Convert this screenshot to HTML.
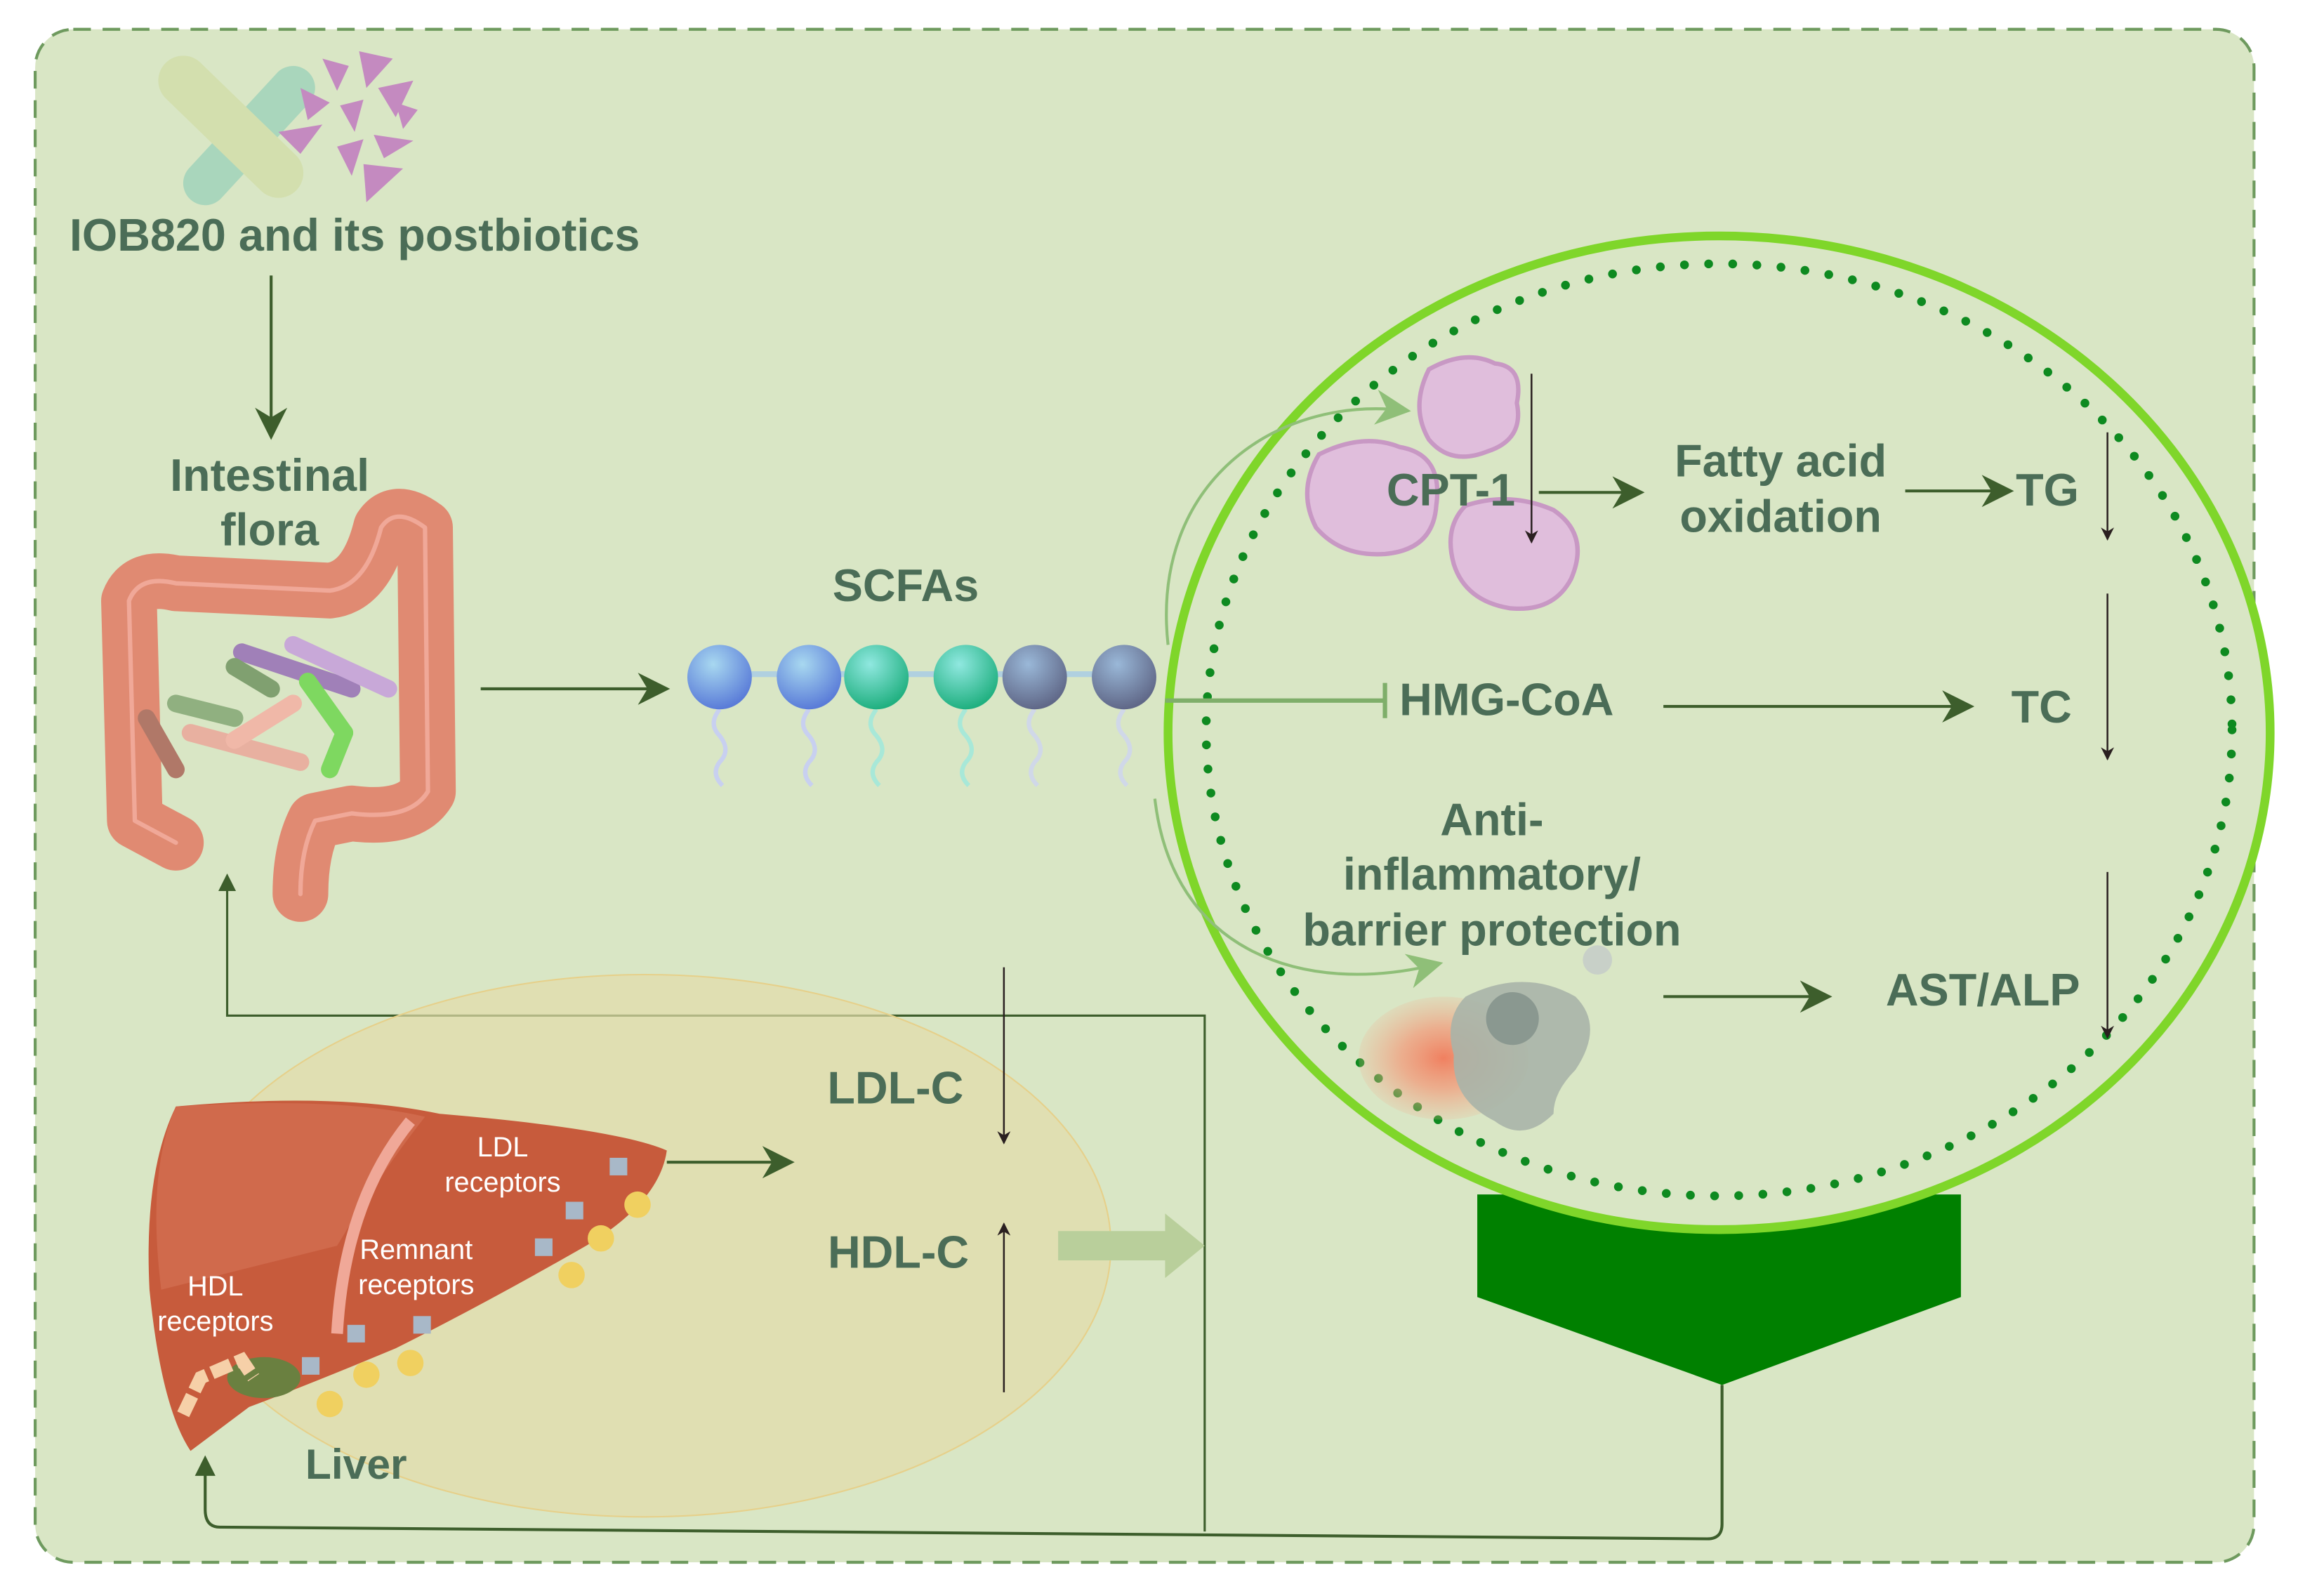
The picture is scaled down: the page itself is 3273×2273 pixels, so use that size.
<!DOCTYPE html>
<html><head><meta charset="utf-8"><style>
html,body{margin:0;padding:0;background:#fff;}
svg{display:block;}
text{font-family:"Liberation Sans",sans-serif;font-weight:bold;fill:#4b6d57;text-anchor:middle;}
.w{fill:#fff;font-weight:normal;font-size:19px;}
</style></head><body>
<svg width="3273" height="2273" viewBox="0 0 1568 1089" preserveAspectRatio="none" xmlns="http://www.w3.org/2000/svg">
<defs>
<marker id="ab" viewBox="0 0 10 10" refX="9" refY="5" markerWidth="22" markerHeight="22" orient="auto" markerUnits="userSpaceOnUse"><path d="M0,0 L10,5 L0,10 L3,5z" fill="#3d5e2c"/></marker>
<marker id="ad" viewBox="0 0 10 10" refX="9" refY="5" markerWidth="9" markerHeight="9" orient="auto" markerUnits="userSpaceOnUse"><path d="M0,0 L10,5 L0,10 L3,5z" fill="#2a2020"/></marker>
<marker id="ag" viewBox="0 0 10 10" refX="8" refY="5" markerWidth="24" markerHeight="24" orient="auto" markerUnits="userSpaceOnUse"><path d="M0,0 L10,5 L0,10 L3,5z" fill="#8fbf78"/></marker>
<radialGradient id="ball" cx="0.4" cy="0.3" r="0.7"><stop offset="0" stop-color="#a8d8f0"/><stop offset="1" stop-color="#5a7cd8"/></radialGradient>
<radialGradient id="ballg" cx="0.4" cy="0.3" r="0.7"><stop offset="0" stop-color="#90e8e0"/><stop offset="1" stop-color="#20b080"/></radialGradient>
<radialGradient id="ballk" cx="0.4" cy="0.3" r="0.7"><stop offset="0" stop-color="#9ab8d8"/><stop offset="1" stop-color="#606888"/></radialGradient>
<radialGradient id="halo"><stop offset="0" stop-color="#f08060"/><stop offset="0.5" stop-color="#f0a080" stop-opacity="0.8"/><stop offset="1" stop-color="#f0b090" stop-opacity="0.2"/></radialGradient>
</defs>
<rect x="24" y="20" width="1514" height="1046" rx="26" fill="#d9e6c5" stroke="#6e9a5e" stroke-width="2" stroke-dasharray="12 8"/>

<!-- bacteria icon -->
<line x1="140" y1="125" x2="200" y2="60" stroke="#a9d6bc" stroke-width="30" stroke-linecap="round"/>
<line x1="125" y1="55" x2="190" y2="118" stroke="#d3dfae" stroke-width="34" stroke-linecap="round"/>
<g fill="#c48ac0">
<polygon points="220,40 238,45 230,62"/><polygon points="245,35 268,40 250,60"/><polygon points="205,60 225,70 210,82"/>
<polygon points="232,72 248,68 242,90"/><polygon points="258,60 282,55 270,80"/><polygon points="190,90 220,85 205,105"/>
<polygon points="230,100 248,95 240,120"/><polygon points="255,92 282,96 262,108"/><polygon points="248,112 275,115 250,138"/>
<polygon points="270,70 285,75 275,88"/>
</g>
<text x="242" y="171" font-size="31">IOB820 and its postbiotics</text>
<line x1="185" y1="188" x2="185" y2="298" stroke="#3d5e2c" stroke-width="2" marker-end="url(#ab)"/>
<text x="184" y="335" font-size="31">Intestinal</text>
<text x="184" y="372" font-size="31">flora</text>

<!-- colon -->
<g fill="none" stroke-linecap="round" stroke-linejoin="round">
<path d="M120,575 L92,560 L88,410 Q95,392 120,398 L225,403 Q250,400 260,360 Q270,345 290,360 L292,540 Q280,560 240,555 L215,560 Q205,580 205,610" stroke="#e08a72" stroke-width="38"/>
<path d="M120,575 L92,560 L88,410 Q95,392 120,398 L225,403 Q250,400 260,360 Q270,345 290,360 L292,540 Q280,560 240,555 L215,560 Q205,580 205,610" stroke="#f0a898" stroke-width="3"/>
</g>
<g stroke-width="12" stroke-linecap="round">
<line x1="165" y1="445" x2="240" y2="470" stroke="#a080b8"/><line x1="200" y1="440" x2="265" y2="470" stroke="#c8a8d8"/>
<line x1="210" y1="465" x2="235" y2="500" stroke="#7ed860"/><line x1="235" y1="500" x2="225" y2="525" stroke="#7ed860"/>
<line x1="120" y1="480" x2="160" y2="490" stroke="#90b080"/><line x1="130" y1="500" x2="205" y2="520" stroke="#e8b0a0"/>
<line x1="160" y1="505" x2="200" y2="480" stroke="#f0b8a8"/><line x1="100" y1="490" x2="120" y2="525" stroke="#b07868"/>
<line x1="160" y1="455" x2="185" y2="470" stroke="#80a070"/>
</g>

<line x1="328" y1="470" x2="455" y2="470" stroke="#3d5e2c" stroke-width="2" marker-end="url(#ab)"/>
<text x="618" y="410" font-size="31">SCFAs</text>
<line x1="491" y1="460" x2="767" y2="460" stroke="#b0d0e0" stroke-width="4"/>
<g fill="none" stroke-width="3">
<path d="M491,484 q-8,10 0,18 q8,10 0,18 q-6,8 2,16" stroke="#c8d0f0"/>
<path d="M552,484 q-8,10 0,18 q8,10 0,18 q-6,8 2,16" stroke="#c8d0f0"/>
<path d="M598,484 q-8,10 0,18 q8,10 0,18 q-6,8 2,16" stroke="#a8e8d8"/>
<path d="M659,484 q-8,10 0,18 q8,10 0,18 q-6,8 2,16" stroke="#a8e8d8"/>
<path d="M706,484 q-8,10 0,18 q8,10 0,18 q-6,8 2,16" stroke="#d0d8e8"/>
<path d="M767,484 q-8,10 0,18 q8,10 0,18 q-6,8 2,16" stroke="#d0d8e8"/>
</g>
<circle cx="491" cy="462" r="22" fill="url(#ball)"/><circle cx="552" cy="462" r="22" fill="url(#ball)"/>
<circle cx="598" cy="462" r="22" fill="url(#ballg)"/><circle cx="659" cy="462" r="22" fill="url(#ballg)"/>
<circle cx="706" cy="462" r="22" fill="url(#ballk)"/><circle cx="767" cy="462" r="22" fill="url(#ballk)"/>

<polyline points="155,598 155,693 822,693 822,1045" fill="none" stroke="#3d5e2c" stroke-width="1.5"/>
<path d="M155,596 l-6,12 l12,0z" fill="#3d5e2c"/>
<path d="M1175,945 L1175,1040 Q1175,1050 1165,1050 L150,1042 Q140,1042 140,1030 L140,997" fill="none" stroke="#3d5e2c" stroke-width="2"/>
<path d="M140,993 l-7,14 l14,0z" fill="#3d5e2c"/>

<ellipse cx="440" cy="850" rx="318" ry="185" fill="#e3dba9" fill-opacity="0.7" stroke="#e6d08a" stroke-width="1"/>

<!-- liver -->
<path d="M120,755 Q230,745 300,760 Q420,770 455,785 Q450,820 400,850 Q330,890 270,920 Q210,945 170,960 Q150,975 130,990 Q110,960 102,880 Q98,800 120,755z" fill="#c75b3c"/>
<path d="M120,755 Q230,748 290,762 Q260,800 230,850 L110,880 Q100,800 120,755z" fill="#d06a4c"/>
<path d="M230,910 Q235,820 280,765" stroke="#f0a898" stroke-width="8" fill="none"/>
<ellipse cx="180" cy="940" rx="25" ry="14" fill="#6a8040"/>
<path d="M125,965 l12,-25 l28,-12 l8,12" stroke="#f6d0a8" stroke-width="9" fill="none" stroke-dasharray="14 4"/>
<g fill="#a8b8c8"><rect x="416" y="790" width="12" height="12"/><rect x="386" y="820" width="12" height="12"/><rect x="365" y="845" width="12" height="12"/><rect x="237" y="904" width="12" height="12"/><rect x="282" y="898" width="12" height="12"/><rect x="206" y="926" width="12" height="12"/></g>
<g fill="#f0d060"><circle cx="435" cy="822" r="9"/><circle cx="410" cy="845" r="9"/><circle cx="390" cy="870" r="9"/><circle cx="250" cy="938" r="9"/><circle cx="280" cy="930" r="9"/><circle cx="225" cy="958" r="9"/></g>
<text class="w" x="343" y="789">LDL</text><text class="w" x="343" y="813">receptors</text>
<text class="w" x="284" y="859">Remnant</text><text class="w" x="284" y="883">receptors</text>
<text class="w" x="147" y="884">HDL</text><text class="w" x="147" y="908">receptors</text>
<text x="243" y="1009" font-size="29">Liver</text>
<line x1="455" y1="793" x2="540" y2="793" stroke="#3d5e2c" stroke-width="2" marker-end="url(#ab)"/>
<text x="611" y="753" font-size="31">LDL-C</text>
<text x="613" y="865" font-size="31">HDL-C</text>
<line x1="685" y1="660" x2="685" y2="780" stroke="#2a2020" stroke-width="1.2" marker-end="url(#ad)"/>
<line x1="685" y1="950" x2="685" y2="835" stroke="#2a2020" stroke-width="1.2" marker-end="url(#ad)"/>
<polygon points="722,840 795,840 795,828 822,850 795,872 795,860 722,860" fill="#b9cf9b"/>

<polygon points="1008,815 1338,815 1338,885 1175,945 1008,885" fill="#008000"/>
<ellipse cx="1173" cy="500" rx="376" ry="339" fill="#d9e6c5" stroke="#7fd62a" stroke-width="6"/>
<ellipse cx="1173" cy="498" rx="350" ry="318" fill="none" stroke="#0e8a20" stroke-width="6" stroke-linecap="round" stroke-dasharray="0 16.5"/>

<path d="M797,440 C785,330 870,270 958,280" fill="none" stroke="#8fbf78" stroke-width="2" marker-end="url(#ag)"/>
<path d="M788,545 C800,650 890,680 980,658" fill="none" stroke="#8fbf78" stroke-width="2" marker-end="url(#ag)"/>

<g fill="#e0bedc" stroke="#c898c4" stroke-width="3">
<path d="M975,252 Q1000,238 1020,248 Q1040,250 1035,275 Q1040,300 1015,308 Q990,318 975,300 Q962,278 975,252z"/>
<path d="M900,310 Q930,295 955,305 Q985,310 980,345 Q978,375 945,378 Q915,380 898,360 Q885,335 900,310z"/>
<path d="M1000,345 Q1030,335 1060,348 Q1085,365 1072,395 Q1060,418 1030,415 Q1000,410 992,385 Q985,360 1000,345z"/>
</g>
<text x="990" y="345" font-size="31">CPT-1</text>
<line x1="1045" y1="255" x2="1045" y2="370" stroke="#2a2020" stroke-width="1.2" marker-end="url(#ad)"/>
<line x1="1050" y1="336" x2="1120" y2="336" stroke="#3d5e2c" stroke-width="2" marker-end="url(#ab)"/>
<text x="1215" y="325" font-size="31">Fatty acid</text>
<text x="1215" y="363" font-size="31">oxidation</text>
<line x1="1300" y1="335" x2="1372" y2="335" stroke="#3d5e2c" stroke-width="2" marker-end="url(#ab)"/>
<text x="1397" y="345" font-size="31">TG</text>
<line x1="1438" y1="295" x2="1438" y2="368" stroke="#2a2020" stroke-width="1.2" marker-end="url(#ad)"/>
<line x1="1438" y1="405" x2="1438" y2="518" stroke="#2a2020" stroke-width="1.2" marker-end="url(#ad)"/>
<line x1="1438" y1="595" x2="1438" y2="708" stroke="#2a2020" stroke-width="1.2" marker-end="url(#ad)"/>

<line x1="795" y1="478" x2="945" y2="478" stroke="#7fae6a" stroke-width="3"/>
<line x1="945" y1="466" x2="945" y2="490" stroke="#7fae6a" stroke-width="3"/>
<text x="1028" y="488" font-size="31">HMG-CoA</text>
<line x1="1135" y1="482" x2="1345" y2="482" stroke="#3d5e2c" stroke-width="2" marker-end="url(#ab)"/>
<text x="1393" y="493" font-size="31">TC</text>

<text x="1018" y="570" font-size="31">Anti-</text>
<text x="1018" y="607" font-size="31">inflammatory/</text>
<text x="1018" y="645" font-size="31">barrier protection</text>
<ellipse cx="985" cy="722" rx="58" ry="42" fill="url(#halo)"/>
<path d="M1000,680 Q1040,660 1075,680 Q1095,700 1075,730 Q1060,745 1060,760 Q1040,780 1020,765 Q990,750 992,720 Q985,695 1000,680z" fill="#a8b4a8" fill-opacity="0.9"/>
<circle cx="1032" cy="695" r="18" fill="#8a9890"/>
<circle cx="1090" cy="655" r="10" fill="#c8d0c8"/>
<line x1="1135" y1="680" x2="1248" y2="680" stroke="#3d5e2c" stroke-width="2" marker-end="url(#ab)"/>
<text x="1353" y="686" font-size="31">AST/ALP</text>
</svg>
</body></html>
